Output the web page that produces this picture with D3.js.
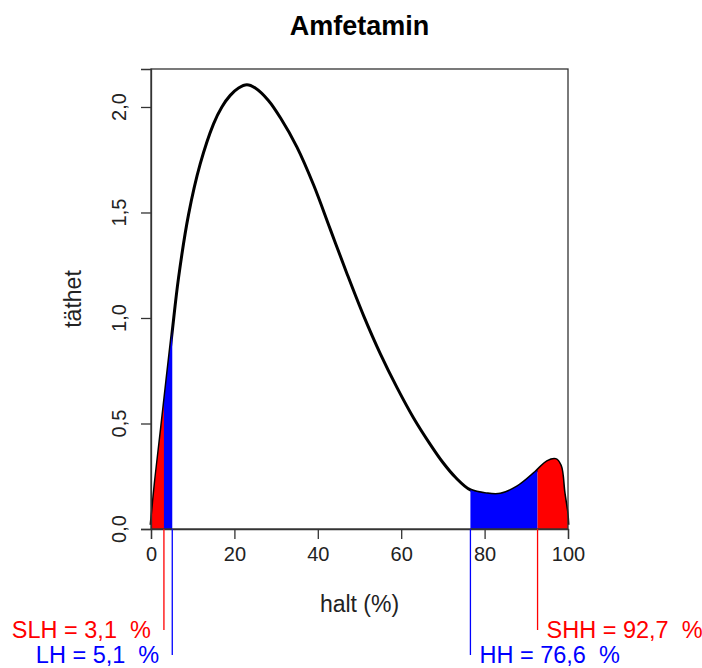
<!DOCTYPE html>
<html lang="sv">
<head>
<meta charset="UTF-8"/>
<title>Amfetamin</title>
<script src="https://d3js.org/d3.v7.min.js"></script>
<style>
    body { margin: 0; background: #fff; }
    text { font-family: "Liberation Sans", Arial, sans-serif; }
</style>
</head>
<body>
<script>
    var w = 702;
    var h = 668;

    // density curve
    var halt = [0, 0.5, 1, 2.5, 5, 6.6, 9, 11.8, 15, 17, 19, 21, 23, 25, 28.2, 31, 35, 39, 43, 47, 51, 55,
                59, 63, 67, 70, 73, 76.6, 80.6, 83.8, 87.8, 92.2, 95, 97, 98.2, 99.1, 99.8, 100];
    var tathet = [0.02, 0.12, 0.22, 0.48, 0.92, 1.19, 1.49, 1.73, 1.92, 2.00, 2.055, 2.09, 2.105, 2.09, 2.03, 1.95, 1.81, 1.63, 1.42, 1.21, 1.01, 0.83,
                  0.67, 0.525, 0.40, 0.315, 0.245, 0.185, 0.167, 0.166, 0.20, 0.27, 0.32, 0.33, 0.30, 0.17, 0.075, 0.02];

    var xTicks = [0, 20, 40, 60, 80, 100];
    var yTicks = [0, 0.5, 1, 1.5, 2];

    // limits
    var limitNames = ["SLH", "LH", "HH", "SHH"];
    var limitValues = [3.1, 5.1, 76.6, 92.7];
    var limitColors = ["#ff0000", "#0000ff", "#0000ff", "#ff0000"];

    // shaded bands
    var bandFrom = [0, 3.1, 76.6, 92.7];
    var bandTo = [3.1, 5.1, 92.7, 100];
    var bandColors = ["#ff0000", "#0000ff", "#0000ff", "#ff0000"];

    var data = halt.map(function(d, i) { return { x: d, y: tathet[i] }; });

    var pLeft = 151, pRight = 568, pTop = 69, pBottom = 529;

    var xScale = d3.scaleLinear().domain([0, 100]).range([pLeft, pRight]);
    var yScale = d3.scaleLinear().domain([0, 2.18]).range([pBottom, pTop]);

    var comma = function(v, dec) { return d3.format("." + dec + "f")(v).replace(".", ","); };

    var svg = d3.select("body").append("svg")
        .attr("width", w)
        .attr("height", h);

    // title
    svg.append("text")
        .attr("x", (pLeft + pRight) / 2)
        .attr("y", 35)
        .attr("text-anchor", "middle")
        .attr("font-size", "27px")
        .attr("font-weight", "bold")
        .text("Amfetamin");

    var line = d3.line()
        .x(function(d) { return xScale(d.x); })
        .y(function(d) { return yScale(d.y); })
        .curve(d3.curveCatmullRom.alpha(0.5));

    var area = d3.area()
        .x(function(d) { return xScale(d.x); })
        .y0(yScale(0))
        .y1(function(d) { return yScale(d.y); })
        .curve(d3.curveCatmullRom.alpha(0.5));

    svg.append("path")
        .datum(data)
        .attr("d", line)
        .attr("fill", "none")
        .attr("stroke", "#000")
        .attr("stroke-width", 3);

    var defs = svg.append("defs");
    bandFrom.forEach(function(b, i) {
        defs.append("clipPath")
            .attr("id", "band" + i)
            .append("rect")
            .attr("x", xScale(b))
            .attr("y", pTop)
            .attr("width", xScale(bandTo[i]) - xScale(b))
            .attr("height", pBottom - pTop);
        svg.append("path")
            .datum(data)
            .attr("d", area)
            .attr("fill", bandColors[i])
            .attr("clip-path", "url(#band" + i + ")");
    });

    // box
    svg.append("rect")
        .attr("x", pLeft)
        .attr("y", pTop)
        .attr("width", pRight - pLeft)
        .attr("height", pBottom - pTop)
        .attr("fill", "none")
        .attr("stroke", "#333")
        .attr("stroke-width", 1.3);

    // x axis
    var xAxis = svg.append("g")
        .attr("transform", "translate(0," + pBottom + ")")
        .call(d3.axisBottom(xScale).tickValues(xTicks).tickSize(10).tickPadding(8)
            .tickFormat(function(d) { return d; }));
    xAxis.select(".domain").attr("stroke", "#333").attr("stroke-width", 1.3);
    xAxis.selectAll(".tick line").attr("stroke", "#333").attr("stroke-width", 1.3);
    xAxis.selectAll("text")
        .attr("font-size", "20px")
        .attr("font-family", "Liberation Sans, Arial, sans-serif")
        .attr("fill", "#222");

    // y axis
    var yAxis = svg.append("g")
        .attr("transform", "translate(" + pLeft + ",0)")
        .call(d3.axisLeft(yScale).tickValues(yTicks).tickSize(10).tickFormat(""));
    yAxis.select(".domain").attr("stroke", "#333").attr("stroke-width", 1.3);
    yAxis.selectAll(".tick line").attr("stroke", "#333").attr("stroke-width", 1.3);

    svg.selectAll(".ylab")
        .data(yTicks)
        .enter()
        .append("text")
        .attr("class", "ylab")
        .attr("transform", function(d) { return "translate(126," + yScale(d) + ") rotate(-90)"; })
        .attr("text-anchor", "middle")
        .attr("font-size", "20px")
        .attr("fill", "#222")
        .text(function(d) { return comma(d, 1); });

    // axis labels
    svg.append("text")
        .attr("x", (pLeft + pRight) / 2)
        .attr("y", 612)
        .attr("text-anchor", "middle")
        .attr("font-size", "23px")
        .attr("fill", "#222")
        .text("halt (%)");

    svg.append("text")
        .attr("transform", "translate(81," + (pTop + pBottom) / 2 + ") rotate(-90)")
        .attr("text-anchor", "middle")
        .attr("font-size", "23px")
        .attr("fill", "#222")
        .text("täthet");

    // limit lines and labels
    var lineEnd = [630, 655, 655, 630];
    limitValues.forEach(function(v, i) {
        var lx = xScale(v);
        svg.append("line")
            .attr("x1", lx).attr("x2", lx)
            .attr("y1", pBottom).attr("y2", lineEnd[i])
            .attr("stroke", limitColors[i])
            .attr("stroke-width", 1.3);
        var onLeft = v < 50;
        svg.append("text")
            .attr("x", onLeft ? lx - 13 : lx + 9)
            .attr("y", lineEnd[i] + 8)
            .attr("text-anchor", onLeft ? "end" : "start")
            .attr("font-size", "23.5px")
            .attr("fill", limitColors[i])
            .style("white-space", "pre")
            .text(limitNames[i] + " = " + comma(v, 1) + "  %");
    });
</script>
</body>
</html>
